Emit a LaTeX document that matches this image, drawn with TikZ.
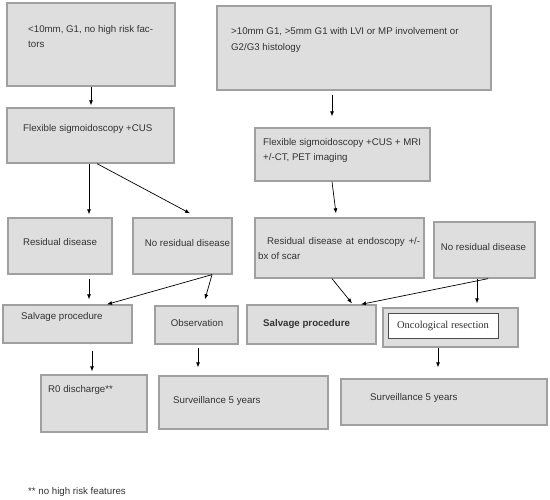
\documentclass[tikz,border=0pt]{standalone}
\usepackage{fontspec}
\setmainfont{Liberation Sans}
\newfontfamily\serifo{Liberation Serif}
\usetikzlibrary{fit,calc,arrows.meta}
\definecolor{boxfill}{HTML}{DEDEDE}
\definecolor{boxline}{HTML}{A0A0A0}
\definecolor{txtc}{HTML}{333333}
\begin{document}
\begin{tikzpicture}[x=1pt,y=-1pt,
  box/.style={draw=boxline, fill=boxfill, line width=1.3pt, inner sep=0pt},
  inbox/.style={draw=black!70, fill=white, line width=0.8pt, inner sep=0pt},
  txt/.style={text=txtc, inner sep=0pt, font=\fontsize{9.7}{15.5}\selectfont, align=left},
  arr/.style={-{Latex[length=5pt,width=4pt]}, line width=0.7pt, black}]
\useasboundingbox (0,0) rectangle (550,500);
% boxes
\node[box, fit={(7,3)(175,86)}] (A) {};
\node[box, fit={(217,6)(491,90)}] (B) {};
\node[box, fit={(7,108)(174,163)}] (F1) {};
\node[box, fit={(255,128)(430,181)}] (F2) {};
\node[box, fit={(8,218)(112,274)}] (R1) {};
\node[box, fit={(133,218)(232,274)}] (NR1) {};
\node[box, fit={(255,218)(424,278)}] (R2) {};
\node[box, fit={(434,222)(535,278)}] (NR2) {};
\node[box, fit={(3,305)(132,343)}] (S1) {};
\node[box, fit={(155,306)(238,344)}] (Obs) {};
\node[box, fit={(247,305)(376,344)}] (S2) {};
\node[box, fit={(383,308)(518,347)}] (Onc) {};
\node[inbox, fit={(388,313)(498,338)}] (OncIn) {};
\node[box, fit={(41,375)(147,432)}] (R0) {};
\node[box, fit={(159,376)(328,429)}] (Sv1) {};
\node[box, fit={(341,379)(547,425)}] (Sv2) {};
% texts
\node[txt, anchor=north west, font=\fontsize{9.7}{15}\selectfont] (tA) at (28,25.5) {<10mm, G1, no high risk fac-\\tors};
\node[txt, anchor=north west, font=\fontsize{9.7}{16}\selectfont] (tB) at (231,27.5) {>10mm G1, >5mm G1 with LVI or MP involvement or\\G2/G3 histology};
\node[txt, anchor=mid west] (tF1) at (23,129) {Flexible sigmoidoscopy +CUS};
\node[txt, anchor=north west, font=\fontsize{9.7}{15}\selectfont] (tF2) at (263,138.5) {Flexible sigmoidoscopy +CUS + MRI\\+/-CT, PET imaging};
\node[txt, anchor=mid] (tR1) at (60,243) {Residual disease};
\node[txt, anchor=mid] (tNR1) at (187.5,244) {No residual disease};
\node[txt, anchor=north west, font=\fontsize{9.7}{15}\selectfont] (tR2) at (258,237.5) {\hspace*{9pt}\makebox[153pt][s]{Residual disease at endoscopy +/-}\\bx of scar};
\node[txt, anchor=mid] (tNR2) at (483.5,248) {No residual disease};
\node[txt, anchor=mid west] (tS1) at (21,317) {Salvage procedure};
\node[txt, anchor=mid] (tObs) at (197,324) {Observation};
\node[txt, anchor=mid west, font=\fontsize{9.7}{15.5}\selectfont\bfseries] (tS2) at (263,324) {Salvage procedure};
\node[txt, anchor=mid, font=\fontsize{10.5}{12}\serifo] (tOnc) at (443,326) {Oncological resection};
\node[txt, anchor=mid west] (tR0) at (48,390) {R0 discharge**};
\node[txt, anchor=mid west] (tSv1) at (173,401) {Surveillance 5 years};
\node[txt, anchor=mid west] (tSv2) at (370,398) {Surveillance 5 years};
\node[txt, anchor=mid west] (tFoot) at (28,492) {** no high risk features};
% arrows
\draw[arr] (A.south) -- ($(F1.north)+(0.5,-2)$);
\draw[arr] ($(B.south)+(-22,4)$) -- ($(F2.north)+(-10.5,-11)$);
\draw[arr] ($(F1.south)+(-1.5,0)$) -- ($(R1.north)+(29,-3)$);
\draw[arr] ($(F1.south)+(6.5,0)$) -- ($(NR1.north)+(7.5,-4)$);
\draw[arr] ($(F2.south)+(-10.5,0)$) -- ($(R2.north)+(-3.5,-4)$);
\draw[arr] ($(R1.south)+(29,4)$) -- ($(S1.north)+(21.5,-5)$);
\draw[arr] ($(NR1.south)+(29.5,0)$) -- ($(S1.north)+(39.5,0)$);
\draw[arr] ($(NR1.south)+(29.5,0)$) -- ($(Obs.north)+(8.5,-6)$);
\draw[arr] ($(R2.south)+(-7.5,0)$) -- ($(S2.north)+(40.5,-1)$);
\draw[arr] ($(NR2.south)+(3.5,0)$) -- ($(S2.north)+(49.5,0)$);
\draw[arr] ($(NR2.south)+(-7.5,0)$) -- ($(Onc.north)+(26.5,-4)$);
\draw[arr] ($(S1.south)+(24.5,7)$) -- ($(R0.north)+(-2,-3)$);
\draw[arr] ($(Obs.south)+(1.5,3)$) -- ($(Sv1.north)+(-45.5,-8)$);
\draw[arr] ($(Onc.south)+(-12.5,0)$) -- ($(Sv2.north)+(-6,-11)$);
\end{tikzpicture}
\end{document}
